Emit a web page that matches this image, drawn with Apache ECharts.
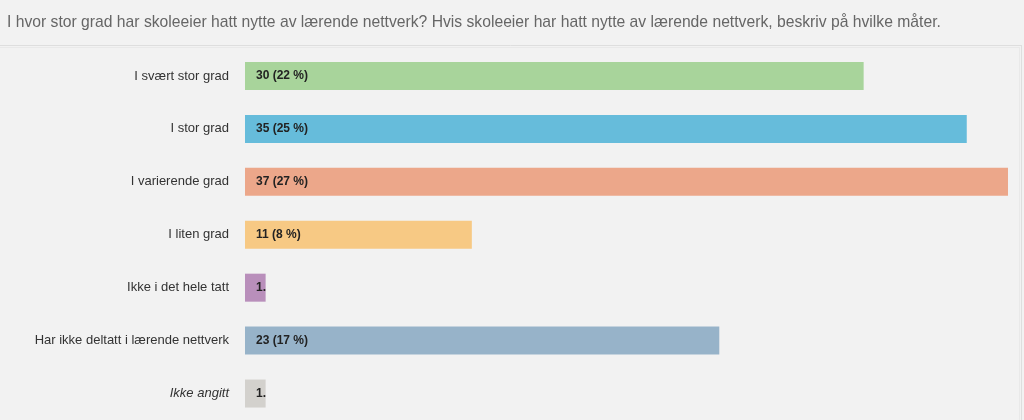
<!DOCTYPE html>
<html>
<head>
<meta charset="utf-8">
<style>
html,body{margin:0;padding:0;background:#f2f2f2;}
#c{width:1024px;height:420px;}
</style>
<script src="https://cdn.jsdelivr.net/npm/echarts@6/dist/echarts.min.js"></script>
</head>
<body>
<div id="c"></div>
<script>
const titleText = 'I hvor stor grad har skoleeier hatt nytte av lærende nettverk? Hvis skoleeier har hatt nytte av lærende nettverk, beskriv på hvilke måter.';
const categories = ['I svært stor grad','I stor grad','I varierende grad','I liten grad','Ikke i det hele tatt','Har ikke deltatt i lærende nettverk','Ikke angitt'];
const counts = [30, 35, 37, 11, 1, 23, 1];
const colors = ['#a8d49b','#66bcdb','#eca78a','#f7c984','#b98fbb','#97b3c9','#d3d1cd'];

const total = counts.reduce((a,b)=>a+b,0);
const maxVal = Math.max(...counts);
const gridLeft = 245, gridWidth = 763;

const data = counts.map((v,i)=>({
  value: v,
  itemStyle: {color: colors[i]},
  label: {width: v/maxVal*gridWidth - 8, overflow:'truncate', ellipsis:'.'}
}));

const chart = echarts.init(document.getElementById('c'), null, {renderer:'canvas'});
chart.setOption({
  backgroundColor: '#f2f2f2',
  animation: false,
  title: {
    text: titleText, left: 2, top: 10,
    textStyle: {fontFamily:'Liberation Sans, Arial', fontSize: 15.7, fontWeight:'normal', color:'#666'}
  },
  graphic: [
    {type:'line', shape:{x1:0,y1:45.5,x2:1021,y2:45.5}, style:{stroke:'#dedede',lineWidth:1}},
    {type:'line', shape:{x1:0,y1:47.5,x2:1020,y2:47.5}, style:{stroke:'#e9e9e9',lineWidth:1}},
    {type:'line', shape:{x1:1021.5,y1:45,x2:1021.5,y2:420}, style:{stroke:'#dedede',lineWidth:1}},
    {type:'line', shape:{x1:1019.5,y1:47,x2:1019.5,y2:420}, style:{stroke:'#e9e9e9',lineWidth:1}}
  ],
  grid: {left: gridLeft, width: gridWidth, top: 49.5, height: 373, containLabel:false},
  xAxis: {type:'value', min:0, max:maxVal, show:false},
  yAxis: {
    type:'category', data: categories, inverse:true,
    axisLine:{show:false}, axisTick:{show:false}, splitLine:{show:false},
    axisLabel:{
      margin: 16, color:'#333', fontSize:13, fontFamily:'Liberation Sans, Arial',
      formatter: (v)=> v==='Ikke angitt' ? '{it|'+v+'}' : v,
      rich:{it:{fontStyle:'italic', color:'#333', fontSize:13, fontFamily:'Liberation Sans, Arial'}}
    }
  },
  series: [{
    type:'bar', data: data, barWidth: 28,
    label: {
      show:true, position:'insideLeft', distance: 11,
      color:'#222', fontSize:12, fontWeight:'bold', fontFamily:'Liberation Sans, Arial',
      formatter: (p)=> p.value + ' (' + Math.round(p.value/total*100) + ' %)'
    }
  }]
});
</script>
</body>
</html>
